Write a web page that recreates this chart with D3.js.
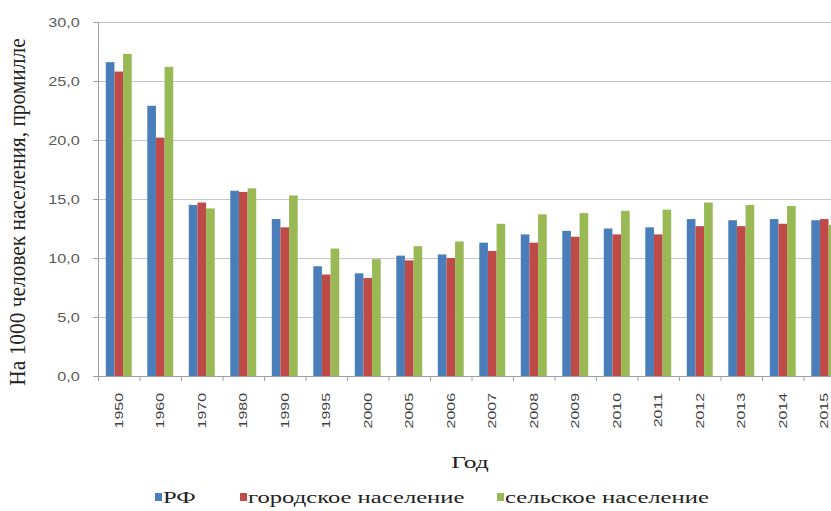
<!DOCTYPE html>
<html>
<head>
<meta charset="utf-8">
<script src="https://cdn.jsdelivr.net/npm/d3@7"></script>
<style>
  html, body { margin: 0; padding: 0; background: #fff; overflow: hidden; }
  svg { display: block; }
</style>
</head>
<body>
<svg id="chart" width="831" height="511"></svg>
<script>
// Birth rate per 1000 population, Russia, by year
const years = ["1950","1960","1970","1980","1990","1995","2000","2005","2006","2007","2008","2009","2010","2011","2012","2013","2014","2015"];
const rf    = [26.6, 22.9, 14.5, 15.7, 13.3, 9.3, 8.7, 10.2, 10.3, 11.3, 12.0, 12.3, 12.5, 12.6, 13.3, 13.2, 13.3, 13.2];
const urban = [25.8, 20.2, 14.7, 15.6, 12.6, 8.6, 8.3, 9.8, 10.0, 10.6, 11.3, 11.8, 12.0, 12.0, 12.7, 12.7, 12.9, 13.3];
const rural = [27.3, 26.2, 14.2, 15.9, 15.3, 10.8, 9.9, 11.0, 11.4, 12.9, 13.7, 13.8, 14.0, 14.1, 14.7, 14.5, 14.4, 12.8];
const seriesNames = ["РФ", "городское население", "сельское население"];
const seriesColors = ["#4A7EBB", "#BE4B48", "#98B954"];
const yTicks = [0, 5, 10, 15, 20, 25, 30];

const series = [rf, urban, rural];
const svg = d3.select("#chart");
const margin = { left: 98, top: 22, bottom: 135 };
const plotW = 747, plotH = 511 - margin.top - margin.bottom;

const x = d3.scaleBand().domain(years).range([0, plotW]).padding(0);
const xs = d3.scaleBand().domain(d3.range(3)).range([0, x.bandwidth()])
  .paddingInner(0).paddingOuter(0.9);
const y = d3.scaleLinear().domain([0, 30]).range([plotH, 0]);

const g = svg.append("g").attr("transform", `translate(${margin.left},${margin.top})`);

// horizontal gridlines
g.append("g").selectAll("line").data(yTicks.filter(d => d > 0)).join("line")
  .attr("x1", 0).attr("x2", plotW)
  .attr("y1", d => y(d) + 0.5).attr("y2", d => y(d) + 0.5)
  .attr("stroke", "#c6c6c6").attr("stroke-width", 1);

// bars
series.forEach((vals, si) => {
  g.append("g").selectAll("rect").data(vals).join("rect")
    .attr("x", (d, i) => x(years[i]) + xs(si))
    .attr("y", d => y(d))
    .attr("width", xs.bandwidth())
    .attr("height", d => y(0) - y(d))
    .attr("fill", seriesColors[si]);
});

// y axis
const yAxis = g.append("g").call(
  d3.axisLeft(y).tickValues(yTicks).tickSize(5).tickPadding(13)
    .tickFormat(d => d3.format(".1f")(d).replace(".", ","))
);
yAxis.select(".domain").attr("stroke", "#a0a0a0").attr("d", `M0.5,0V${plotH}`);
yAxis.selectAll(".tick line").attr("stroke", "#a0a0a0");
yAxis.selectAll(".tick text")
  .attr("fill", "#5a5a5a")
  .style("font-family", "'Liberation Sans', Arial, sans-serif")
  .style("font-size", "13px")
  .attr("transform", "scale(1.25,1)")
  .attr("x", -14.5);

// x axis
const xAxisG = g.append("g").attr("transform", `translate(0,${plotH})`);
xAxisG.append("line").attr("x1", 0).attr("x2", plotW)
  .attr("y1", 0.5).attr("y2", 0.5).attr("stroke", "#a0a0a0");
xAxisG.append("g").selectAll("line").data(years).join("line")
  .attr("x1", d => x(d) + 0.5).attr("x2", d => x(d) + 0.5)
  .attr("y1", 0).attr("y2", 5).attr("stroke", "#a0a0a0");
xAxisG.append("g").selectAll("text").data(years).join("text")
  .attr("transform", d => `translate(${x(d) + x.bandwidth() / 2 + 4},${17}) rotate(-90) scale(1.45,1)`)
  .attr("text-anchor", "end")
  .attr("fill", "#404040")
  .style("font-family", "'Liberation Sans', Arial, sans-serif")
  .style("font-size", "11px")
  .text(d => d);

// axis titles (the serif captions are set wide)
svg.append("text")
  .attr("transform", `translate(25,212) rotate(-90) scale(1.07,1.15)`)
  .attr("text-anchor", "middle")
  .attr("fill", "#222")
  .style("font-family", "'Liberation Serif', 'Times New Roman', serif")
  .style("font-size", "20px")
  .text("На 1000 человек населения, промилле");

svg.append("text")
  .attr("transform", "translate(470,468) scale(1.5,1)")
  .attr("text-anchor", "middle")
  .attr("fill", "#222")
  .style("font-family", "'Liberation Serif', 'Times New Roman', serif")
  .style("font-size", "17px")
  .text("Год");

// legend
const legendX = [155, 240, 497];
const legend = svg.append("g").selectAll("g").data(seriesNames).join("g")
  .attr("transform", (d, i) => `translate(${legendX[i]},503)`);
legend.append("rect").attr("x", 0).attr("y", -10).attr("width", 7).attr("height", 8)
  .attr("fill", (d, i) => seriesColors[i]);
legend.append("text")
  .attr("transform", "translate(8,0) scale(1.45,1)")
  .attr("fill", "#222")
  .style("font-family", "'Liberation Serif', 'Times New Roman', serif")
  .style("font-size", "17px")
  .text(d => d);
</script>
</body>
</html>
